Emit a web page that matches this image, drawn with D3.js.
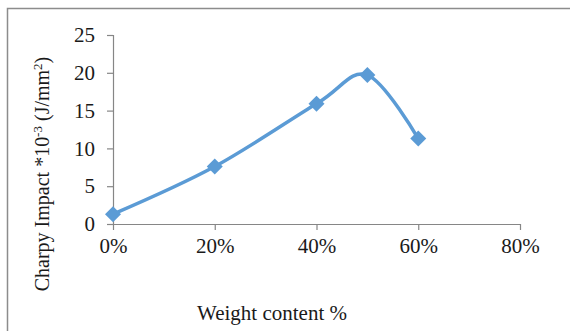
<!DOCTYPE html>
<html><head><meta charset="utf-8">
<script src="https://cdn.jsdelivr.net/npm/d3@7"></script>
<style>body{margin:0;background:#fff;} svg{display:block;}</style>
</head><body>
<script>
const weightContent = [0, 0.2, 0.4, 0.5, 0.6];
const charpyImpact = [1.3, 7.6, 15.9, 19.7, 11.3];
const xTicks = [0, 0.2, 0.4, 0.6, 0.8];
const yTicks = [0, 5, 10, 15, 20, 25];

const W = 570, H = 331;
const svg = d3.select("body").append("svg").attr("width", W).attr("height", H);
svg.append("rect").attr("width", W).attr("height", H).attr("fill", "#fff");

svg.append("path").attr("d", "M7.5,331 L7.5,8.5 L570,8.5")
  .attr("fill", "none").attr("stroke", "#8c8c8c").attr("stroke-width", 1.5);

const x = d3.scaleLinear().domain([0, 0.8]).range([113, 520]);
const y = d3.scaleLinear().domain([0, 25]).range([224, 35]);
const font = "'Liberation Serif','Times New Roman',serif";

const xAxis = svg.append("g").attr("transform", `translate(0,${y(0)})`)
  .call(d3.axisBottom(x).tickValues(xTicks).tickFormat(d3.format(".0%")).tickSizeOuter(0).tickSize(6).tickPadding(8));
const yAxis = svg.append("g").attr("transform", `translate(${x(0)},0)`)
  .call(d3.axisLeft(y).tickValues(yTicks).tickSizeOuter(0).tickSize(6).tickPadding(12));
[xAxis, yAxis].forEach(g => {
  g.select(".domain").attr("stroke", "#868686").attr("stroke-width", 1.2);
  g.selectAll(".tick line").attr("stroke", "#868686").attr("stroke-width", 1.2);
  g.selectAll("text").attr("fill", "#1a1a1a").style("font-family", font).style("font-size", "21px");
});
xAxis.select(".domain").attr("d", `M${x(0)},0.5H${x(0.8)}`);

const pts = weightContent.map((d, i) => [x(d), y(charpyImpact[i])]);
svg.append("path").attr("d", d3.line().curve(d3.curveCatmullRom.alpha(0))(pts))
  .attr("fill", "none").attr("stroke", "#5b9bd5").attr("stroke-width", 3.5).attr("stroke-linejoin", "round");

svg.selectAll(".m").data(pts).enter().append("path")
  .attr("d", d3.symbol().type(d3.symbolSquare).size(128)())
  .attr("transform", d => `translate(${d[0]},${d[1]}) rotate(45)`)
  .attr("fill", "#5b9bd5");

svg.append("text").attr("x", 272).attr("y", 320).attr("text-anchor", "middle")
  .style("font-family", font).style("font-size", "21px").attr("fill", "#1a1a1a")
  .text("Weight content %");

const yl = svg.append("text").attr("transform", "translate(49,174) rotate(-90)").attr("text-anchor", "middle")
  .style("font-family", font).style("font-size", "20px").attr("fill", "#1a1a1a");
yl.append("tspan").text("Charpy Impact *10");
yl.append("tspan").attr("dy", -7).style("font-size", "13px").text("-3");
yl.append("tspan").attr("dy", 7).text(" (J/mm");
yl.append("tspan").attr("dy", -7).style("font-size", "13px").text("2");
yl.append("tspan").attr("dy", 7).text(")");
</script>
</body></html>
